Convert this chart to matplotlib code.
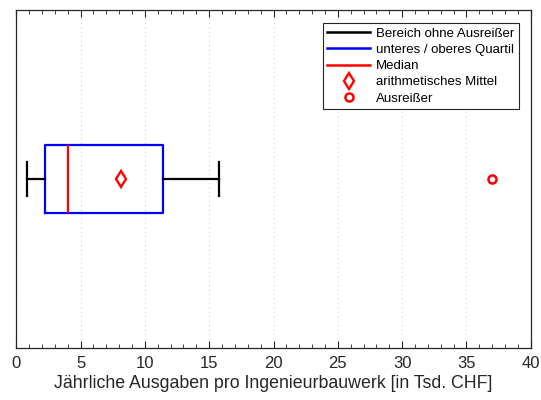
import matplotlib
matplotlib.use("Agg")
import matplotlib.pyplot as plt
from matplotlib.lines import Line2D
from matplotlib.ticker import MultipleLocator

plt.rcParams['font.family'] = ['Liberation Sans', 'DejaVu Sans']

# Summary statistics of annual expenses per engineering structure (thousand CHF)
whisker_low = 0.86
quartile_low = 2.25
median = 4.02
mean = 8.17
quartile_high = 11.38
whisker_high = 15.79
outliers = [37.0]

legend_labels = ["Bereich ohne Ausreißer", "unteres / oberes Quartil", "Median",
                 "arithmetisches Mittel", "Ausreißer"]
xlabel = "Jährliche Ausgaben pro Ingenieurbauwerk [in Tsd. CHF]"

mean_style = dict(marker='d', markerfacecolor='white', markeredgecolor='#ff0000',
                  markeredgewidth=1.7, markersize=8)
flier_style = dict(marker='o', markerfacecolor='white', markeredgecolor='#ff0000',
                   markeredgewidth=1.8, markersize=5.8)

fig = plt.figure(figsize=(5.41, 4.00), dpi=100)
ax = fig.add_axes([16.3 / 541, 1 - 347.7 / 400, (530.7 - 16.3) / 541, (347.7 - 10) / 400])

stats = [dict(whislo=whisker_low, q1=quartile_low, med=median, mean=mean,
              q3=quartile_high, whishi=whisker_high, fliers=outliers)]

ax.bxp(stats, positions=[1], widths=0.2, capwidths=0.1, orientation='horizontal',
       showmeans=True, showfliers=True,
       boxprops=dict(color='#0000ff', linewidth=1.6),
       whiskerprops=dict(color='black', linewidth=1.6),
       capprops=dict(color='black', linewidth=1.6),
       medianprops=dict(color='#ff0000', linewidth=1.6),
       meanprops=mean_style,
       flierprops=flier_style)

ax.set_xlim(0, 40)
ax.set_ylim(0.5, 1.5)
ax.set_yticks([])
ax.xaxis.set_major_locator(MultipleLocator(5))
ax.xaxis.set_minor_locator(MultipleLocator(1))
ax.tick_params(axis='x', which='both', direction='in', top=True, bottom=True,
               labelsize=12, pad=6, colors='#262626')
ax.tick_params(axis='x', which='major', length=5)
ax.tick_params(axis='x', which='minor', length=3)
ax.xaxis.grid(True, which='major', linestyle=(0, (1, 3)), color='#d0d0d0', linewidth=0.8)
ax.set_axisbelow(True)
for s in ax.spines.values():
    s.set_linewidth(0.9)
    s.set_color('#262626')

ax.set_xlabel(xlabel, fontsize=12.8, labelpad=3, color='#262626')

handles = [
    Line2D([], [], color='black', linewidth=1.8),
    Line2D([], [], color='#0000ff', linewidth=1.8),
    Line2D([], [], color='#ff0000', linewidth=1.8),
    Line2D([], [], linestyle='none', **mean_style),
    Line2D([], [], linestyle='none', **flier_style),
]
leg = ax.legend(handles, legend_labels, loc='upper right',
                bbox_to_anchor=(518.5 / 541, 1 - 23 / 400), bbox_transform=fig.transFigure,
                fontsize=9.5, frameon=True, fancybox=False, framealpha=1,
                edgecolor='#262626', handlelength=3.2, handletextpad=0.45,
                labelspacing=0.3, borderpad=0.35, borderaxespad=0)
leg.get_frame().set_linewidth(0.8)

fig.savefig("out.png", dpi=100)
